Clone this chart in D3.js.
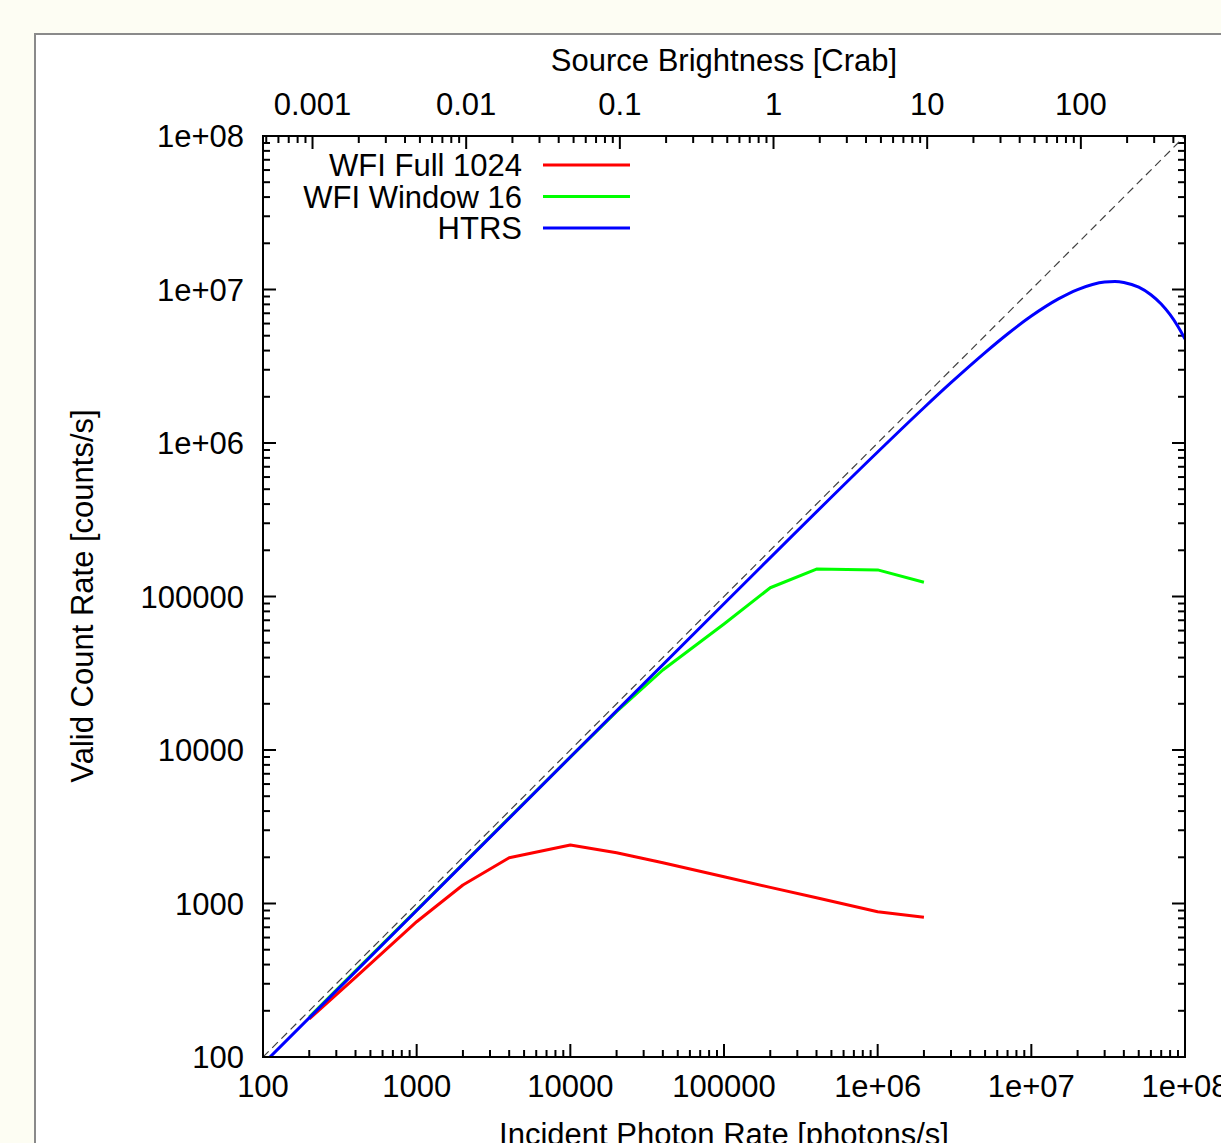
<!DOCTYPE html>
<html>
<head>
<meta charset="utf-8">
<script src="https://cdn.jsdelivr.net/npm/d3@7"></script>
<style>
  html, body { margin: 0; padding: 0; background: #fdfdf3; }
  svg { display: block; }
  text { font-family: "Liberation Sans", Arial, Helvetica, sans-serif; fill: #000; }
</style>
</head>
<body>
<svg id="chart" width="1221" height="1143"></svg>
<script>
// ---------- data ----------
const incidentRates = [200, 400, 1000, 2000, 4000, 10000, 20000, 40000, 100000, 200000, 400000, 1000000, 2000000];
const wfiFull1024   = [177, 330, 761, 1320, 1986, 2405, 2142, 1841, 1495, 1273, 1089, 884, 813];
const wfiWindow16   = [182, 364, 905, 1810, 3610, 8990, 17800, 33200, 66200, 114000, 151000, 149000, 123700];

const htrsRates  = [100, 1000, 10000, 100000, 1000000, 2000000, 3000000, 5000000, 7000000, 10000000,
                    15000000, 20000000, 25000000, 30000000, 35000000, 40000000, 50000000, 60000000,
                    70000000, 80000000, 90000000, 100000000];
const htrsCounts = [90, 900, 8997, 89700, 874000, 1697000, 2470000, 3880000, 5130000, 6710000,
                    8680000, 9990000, 10790000, 11180000, 11260000, 11110000, 10350000, 9240000,
                    8040000, 6850000, 5740000, 4760000];

const diagonal = [100, 100000000];           // y = x reference line
const crabRate = 2.1e5;                      // photons/s per Crab

const xTickLabels = ["100", "1000", "10000", "100000", "1e+06", "1e+07", "1e+08"];
const xTickValues = [1e2, 1e3, 1e4, 1e5, 1e6, 1e7, 1e8];
const yTickLabels = ["100", "1000", "10000", "100000", "1e+06", "1e+07", "1e+08"];
const yTickValues = [1e2, 1e3, 1e4, 1e5, 1e6, 1e7, 1e8];
const crabTickLabels = ["0.001", "0.01", "0.1", "1", "10", "100"];
const crabTickValues = [0.001, 0.01, 0.1, 1, 10, 100];

const seriesNames  = ["WFI Full 1024", "WFI Window 16", "HTRS"];
const seriesColors = ["#ff0000", "#00ff00", "#0000ff"];

// ---------- layout ----------
const svg = d3.select("#chart");
const L = 263, R = 1185, T = 136, B = 1057;
const FS = 31;

// white panel
svg.append("rect").attr("x", 35).attr("y", 34).attr("width", 1300).attr("height", 1200)
  .attr("fill", "#ffffff").attr("stroke", "#8a8a8a").attr("stroke-width", 2);

const x = d3.scaleLog().domain([1e2, 1e8]).range([L, R]);
const y = d3.scaleLog().domain([1e2, 1e8]).range([B, T]);
const xc = d3.scaleLog().domain([1e2 / crabRate, 1e8 / crabRate]).range([L, R]);

function minorTicks(scale) {
  const [a, b] = scale.domain();
  return scale.ticks(100).filter(v => v >= a * 0.9999 && v <= b * 1.0001);
}

const MAJ = 13, MIN = 7;
const axes = svg.append("g").attr("stroke", "#000").attr("stroke-width", 2);

// bottom axis ticks (inward)
minorTicks(x).forEach(v => {
  const isMaj = xTickValues.some(m => Math.abs(Math.log10(m) - Math.log10(v)) < 1e-6);
  const len = isMaj ? MAJ : MIN;
  axes.append("line").attr("x1", x(v)).attr("x2", x(v)).attr("y1", B).attr("y2", B - len);
});
// top crab axis ticks (inward)
minorTicks(xc).forEach(v => {
  const isMaj = crabTickValues.some(m => Math.abs(Math.log10(m) - Math.log10(v)) < 1e-6);
  const len = isMaj ? MAJ : MIN;
  axes.append("line").attr("x1", xc(v)).attr("x2", xc(v)).attr("y1", T).attr("y2", T + len);
});
// left and right y ticks (inward)
minorTicks(y).forEach(v => {
  const isMaj = yTickValues.some(m => Math.abs(Math.log10(m) - Math.log10(v)) < 1e-6);
  const len = isMaj ? MAJ : MIN;
  axes.append("line").attr("x1", L).attr("x2", L + len).attr("y1", y(v)).attr("y2", y(v));
  axes.append("line").attr("x1", R).attr("x2", R - len).attr("y1", y(v)).attr("y2", y(v));
});

// tick labels
const lab = svg.append("g").attr("font-size", FS);
xTickValues.forEach((v, i) => {
  lab.append("text").attr("x", x(v)).attr("y", B + 40).attr("text-anchor", "middle").text(xTickLabels[i]);
});
yTickValues.forEach((v, i) => {
  lab.append("text").attr("x", L - 19).attr("y", y(v) + 11).attr("text-anchor", "end").text(yTickLabels[i]);
});
crabTickValues.forEach((v, i) => {
  lab.append("text").attr("x", xc(v)).attr("y", T - 21).attr("text-anchor", "middle").text(crabTickLabels[i]);
});

// axis titles
lab.append("text").attr("x", (L + R) / 2).attr("y", 71).attr("text-anchor", "middle").text("Source Brightness [Crab]");
lab.append("text").attr("x", (L + R) / 2).attr("y", 1145).attr("text-anchor", "middle").text("Incident Photon Rate [photons/s]");
lab.append("text").attr("transform", `translate(93,596) rotate(-90)`).attr("text-anchor", "middle").text("Valid Count Rate [counts/s]");

// clip for data
svg.append("clipPath").attr("id", "plotclip").append("rect")
  .attr("x", L).attr("y", T).attr("width", R - L).attr("height", B - T);
const plot = svg.append("g").attr("clip-path", "url(#plotclip)");

const line = d3.line().x(d => x(d[0])).y(d => y(d[1]));

// diagonal y = x
plot.append("path").datum(diagonal.map(v => [v, v])).attr("d", line)
  .attr("fill", "none").attr("stroke", "#404040").attr("stroke-width", 1.2).attr("stroke-dasharray", "8,5");

const seriesData = [
  d3.zip(incidentRates, wfiFull1024),
  d3.zip(incidentRates, wfiWindow16),
  d3.zip(htrsRates, htrsCounts)
];
const smoothLine = d3.line().x(d => x(d[0])).y(d => y(d[1])).curve(d3.curveMonotoneX);

plot.append("path").datum(seriesData[0]).attr("d", line).attr("fill", "none")
  .attr("stroke", seriesColors[0]).attr("stroke-width", 3).attr("stroke-linejoin", "round");
plot.append("path").datum(seriesData[1]).attr("d", line).attr("fill", "none")
  .attr("stroke", seriesColors[1]).attr("stroke-width", 3).attr("stroke-linejoin", "round");
plot.append("path").datum(seriesData[2]).attr("d", smoothLine).attr("fill", "none")
  .attr("stroke", seriesColors[2]).attr("stroke-width", 3).attr("stroke-linejoin", "round");

// frame
svg.append("rect").attr("x", L).attr("y", T).attr("width", R - L).attr("height", B - T)
  .attr("fill", "none").attr("stroke", "#000").attr("stroke-width", 2);

// legend
const legY = [165, 196.5, 228];
const leg = svg.append("g").attr("font-size", FS);
seriesNames.forEach((n, i) => {
  leg.append("text").attr("x", 522).attr("y", legY[i] + 11).attr("text-anchor", "end").text(n);
  leg.append("line").attr("x1", 543).attr("x2", 630).attr("y1", legY[i]).attr("y2", legY[i])
    .attr("stroke", seriesColors[i]).attr("stroke-width", 3);
});
</script>
</body>
</html>
